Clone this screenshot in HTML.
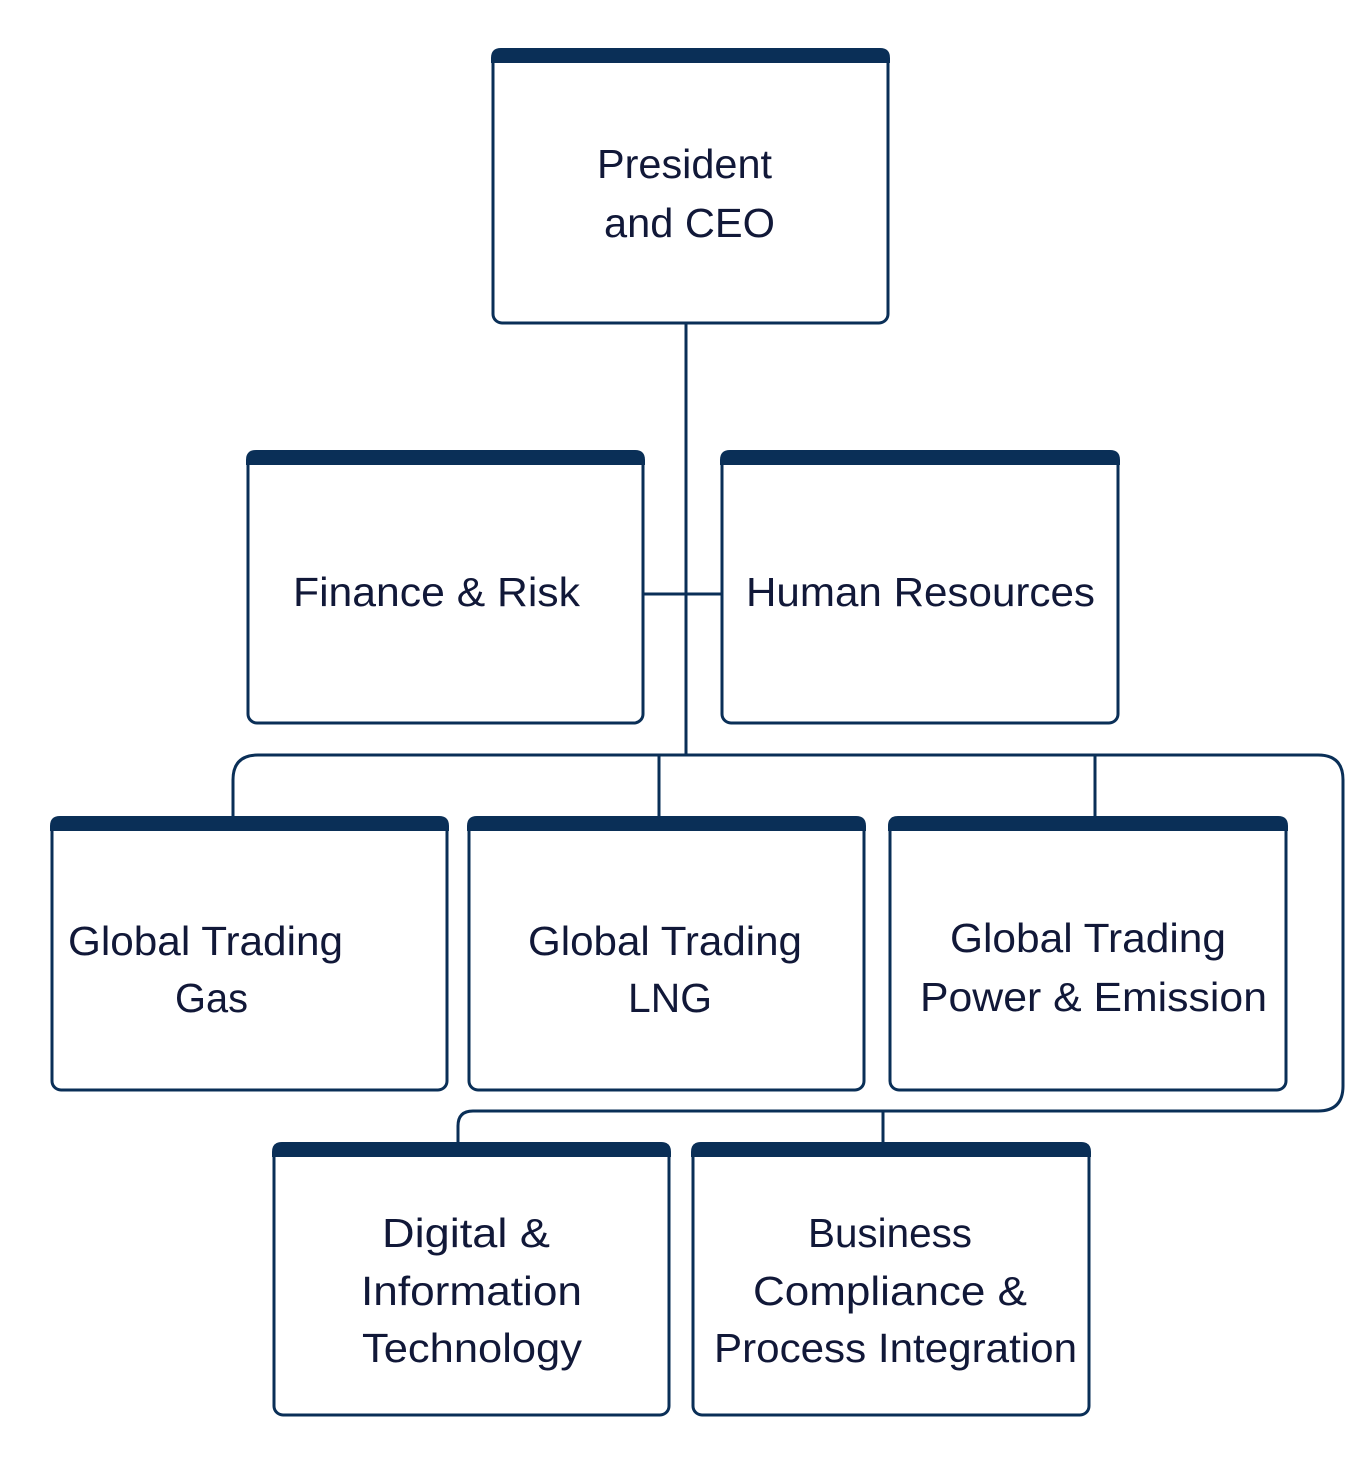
<!DOCTYPE html>
<html><head><meta charset="utf-8"><style>
html,body{margin:0;padding:0;background:#fff;}
svg{display:block;}
text{font-family:"Liberation Sans",sans-serif;font-size:41px;fill:#111838;}
</style></head><body>
<svg width="1372" height="1476" viewBox="0 0 1372 1476" xmlns="http://www.w3.org/2000/svg">
<g fill="none" stroke="#0a2f57" stroke-width="3">
  <!-- connectors -->
  <line x1="686" y1="323" x2="686" y2="755"/>
  <line x1="643" y1="594" x2="722" y2="594"/>
  <path d="M233 817 V780 Q233 755 258 755 H1318 Q1343 755 1343 780 V1086 Q1343 1111 1318 1111 H473 Q458 1111 458 1126 V1143"/>
  <line x1="659" y1="755" x2="659" y2="817"/>
  <line x1="1095" y1="755" x2="1095" y2="817"/>
  <line x1="883" y1="1111" x2="883" y2="1143"/>
</g>
<g fill="#fff" stroke="#0a2f57" stroke-width="3">
  <rect x="493" y="52" width="395" height="271" rx="9"/>
  <rect x="248" y="454" width="395" height="269" rx="9"/>
  <rect x="722" y="454" width="396" height="269" rx="9"/>
  <rect x="52" y="820" width="395" height="270" rx="9"/>
  <rect x="469" y="820" width="395" height="270" rx="9"/>
  <rect x="890" y="820" width="396" height="270" rx="9"/>
  <rect x="274" y="1146" width="395" height="269" rx="9"/>
  <rect x="693" y="1146" width="396" height="269" rx="9"/>
</g>
<g fill="#0a2f57">
  <path d="M491 63 V58 Q491 48 501 48 H880 Q890 48 890 58 V63 Z"/>
  <path d="M246 465 V460 Q246 450 256 450 H635 Q645 450 645 460 V465 Z"/>
  <path d="M720 465 V460 Q720 450 730 450 H1110 Q1120 450 1120 460 V465 Z"/>
  <path d="M50 831 V826 Q50 816 60 816 H439 Q449 816 449 826 V831 Z"/>
  <path d="M467 831 V826 Q467 816 477 816 H856 Q866 816 866 826 V831 Z"/>
  <path d="M888 831 V826 Q888 816 898 816 H1278 Q1288 816 1288 826 V831 Z"/>
  <path d="M272 1157 V1152 Q272 1142 282 1142 H661 Q671 1142 671 1152 V1157 Z"/>
  <path d="M691 1157 V1152 Q691 1142 701 1142 H1081 Q1091 1142 1091 1152 V1157 Z"/>
</g>
<g lengthAdjust="spacingAndGlyphs">
  <text x="597" y="178" textLength="175" lengthAdjust="spacingAndGlyphs">President</text>
  <text x="604" y="237" textLength="171" lengthAdjust="spacingAndGlyphs">and CEO</text>
  <text x="293" y="606" textLength="287" lengthAdjust="spacingAndGlyphs">Finance &amp; Risk</text>
  <text x="746" y="606" textLength="349" lengthAdjust="spacingAndGlyphs">Human Resources</text>
  <text x="68" y="955" textLength="275" lengthAdjust="spacingAndGlyphs">Global Trading</text>
  <text x="175" y="1012" textLength="73" lengthAdjust="spacingAndGlyphs">Gas</text>
  <text x="528" y="955" textLength="274" lengthAdjust="spacingAndGlyphs">Global Trading</text>
  <text x="628" y="1012" textLength="84" lengthAdjust="spacingAndGlyphs">LNG</text>
  <text x="950" y="952" textLength="276" lengthAdjust="spacingAndGlyphs">Global Trading</text>
  <text x="920" y="1011" textLength="347" lengthAdjust="spacingAndGlyphs">Power &amp; Emission</text>
  <text x="382" y="1247" textLength="168" lengthAdjust="spacingAndGlyphs">Digital &amp;</text>
  <text x="361" y="1305" textLength="221" lengthAdjust="spacingAndGlyphs">Information</text>
  <text x="362" y="1362" textLength="220" lengthAdjust="spacingAndGlyphs">Technology</text>
  <text x="808" y="1247" textLength="164" lengthAdjust="spacingAndGlyphs">Business</text>
  <text x="753" y="1305" textLength="274" lengthAdjust="spacingAndGlyphs">Compliance &amp;</text>
  <text x="714" y="1362" textLength="363" lengthAdjust="spacingAndGlyphs">Process Integration</text>
</g>
</svg>
</body></html>
